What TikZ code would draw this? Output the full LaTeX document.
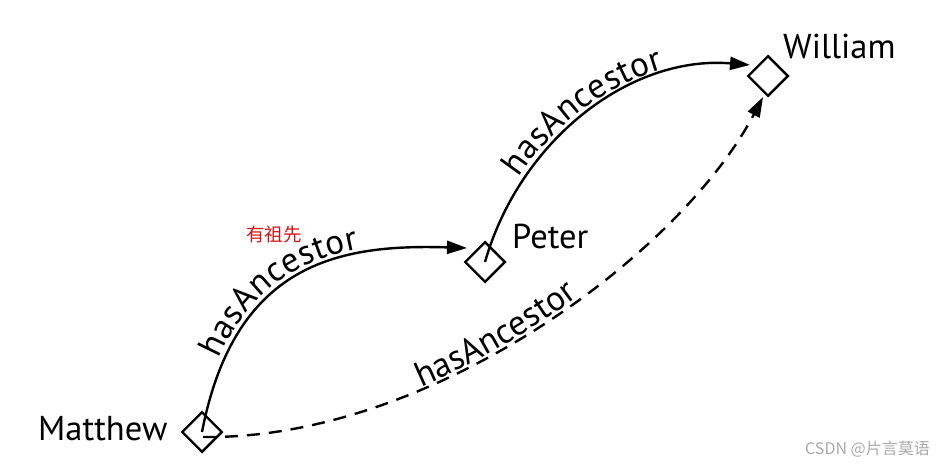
\documentclass[tikz,border=0pt]{standalone}
\usepackage{fontspec}
\setmainfont{PT Sans}
\newfontfamily\cjk{Noto Sans CJK SC}
\usetikzlibrary{arrows.meta,decorations.text}
\begin{document}
\begin{tikzpicture}[x=1pt,y=-1pt,
  ind/.style={draw, rotate=45, minimum size=28pt, inner sep=0pt, line width=2.4pt},
  indname/.style={font=\fontsize{34.5}{34.5}\selectfont, anchor=base west, inner sep=0pt},
  rel/.style={line width=2.4pt, -{Triangle[length=20pt,width=13pt]}},
  inf/.style={rel, dash pattern=on 13pt off 9pt},
  lab/.style 2 args={decorate, decoration={text along path, raise=#2,
      text={|\fontsize{35}{35}\selectfont|hasAncestor}, text align={left indent=#1}}}]
\useasboundingbox (0,0) rectangle (944,468);
\fill[white] (0,0) rectangle (944,468);
% individuals
\node[ind] (m) at (202,432) {};
\node[ind] (p) at (485,262) {};
\node[ind] (w) at (768,76) {};
\node[indname] (mn) at (38,440) {Matthew};
\node[indname] (pn) at (512,248) {Peter};
\node[indname] (wn) at (783,59) {William};
% relations
\draw[rel] (m.center) .. controls (235,262) and (340,244) .. ([shift={(-18,-14)}]p.center);
\path[lab={74pt}{5pt}] (m.center) .. controls (235,262) and (340,244) .. ([shift={(-18,-14)}]p.center);
\draw[rel] (p.center) .. controls (520,140) and (630,55) .. ([shift={(-18,-11)}]w.center);
\path[lab={90pt}{5pt}] (p.center) .. controls (520,140) and (630,55) .. ([shift={(-18,-11)}]w.center);
\draw[inf] ([shift={(1,5)}]m.center) .. controls (430,440) and (680,255) .. ([shift={(-5,21)}]w.center);
\path[lab={226pt}{2pt}] ([shift={(1,5)}]m.center) .. controls (430,440) and (680,255) .. ([shift={(-5,21)}]w.center);
% annotations
\node[font=\cjk\fontsize{18.5}{18.5}\selectfont, text={rgb,255:red,210;green,20;blue,20}, inner sep=0pt] (zh) at (274,235) {有祖先};
\node[font=\cjk\fontsize{16}{16}\selectfont, text={rgb,255:red,170;green,170;blue,170}, inner sep=0pt, anchor=east] (wm) at (930,449) {CSDN @片言莫语};
\end{tikzpicture}
\end{document}
